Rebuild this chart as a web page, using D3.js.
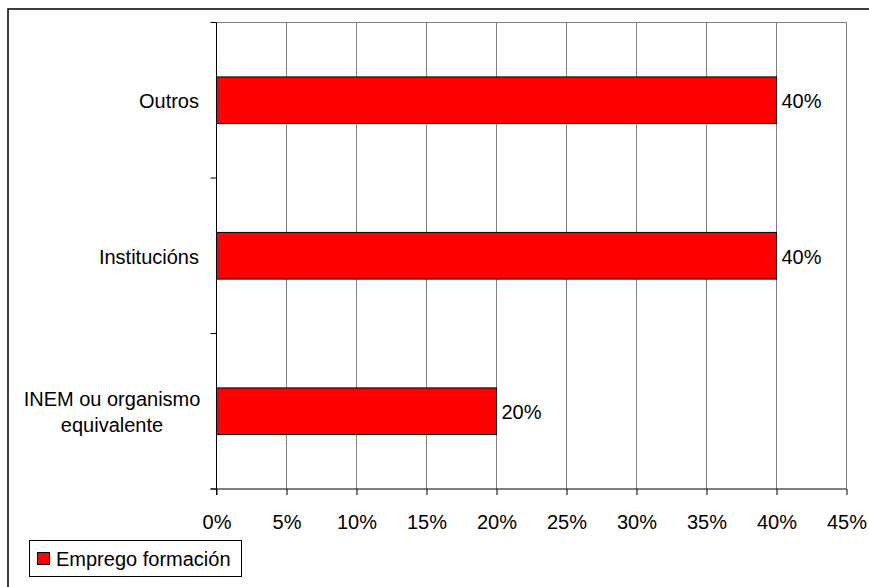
<!DOCTYPE html>
<html><head><meta charset="utf-8">
<script src="https://cdn.jsdelivr.net/npm/d3@7"></script>
<style>body{margin:0;background:#fff}svg{display:block;font-family:"Liberation Sans",Arial,sans-serif}</style>
</head><body>
<svg id="c" width="869" height="587"></svg>
<script>
const categories = ["Outros", "Institucións", "INEM ou organismo equivalente"];
const categoryLines = [["Outros"], ["Institucións"], ["INEM ou organismo", "equivalente"]];
const values = [0.40, 0.40, 0.20];
const valueLabels = ["40%", "40%", "20%"];
const xTicks = [0, 0.05, 0.10, 0.15, 0.20, 0.25, 0.30, 0.35, 0.40, 0.45];
const seriesName = "Emprego formación";

const svg = d3.select("#c");
const fs = 20;
// outer frame
svg.append("rect").attr("x", 8).attr("y", 9).attr("width", 900).attr("height", 700)
  .attr("fill", "#fff").attr("stroke", "#000").attr("stroke-width", 1.5);

const L = 216.5, R = 846.5, T = 22.5, B = 489;
const x = d3.scaleLinear().domain([0, 0.45]).range([L, R]);
const y = d3.scaleBand().domain(categories).range([T, B]).paddingInner(0.7).paddingOuter(0.35);

// gridlines
svg.append("g").selectAll("line").data(xTicks.slice(1)).join("line")
  .attr("x1", d => x(d)).attr("x2", d => x(d)).attr("y1", T).attr("y2", B)
  .attr("stroke", "#808080").attr("stroke-width", 1);
svg.append("line").attr("x1", L).attr("x2", R).attr("y1", T).attr("y2", T)
  .attr("stroke", "#808080").attr("stroke-width", 1);

// bars
svg.append("g").selectAll("rect").data(categories).join("rect")
  .attr("x", x(0)).attr("y", d => y(d))
  .attr("width", (d, i) => x(values[i]) - x(0)).attr("height", y.bandwidth())
  .attr("fill", "#ff0000").attr("stroke", "#000").attr("stroke-width", 1);

// x axis
const xAxis = d3.axisBottom(x).tickValues(xTicks).tickSize(6).tickPadding(20)
  .tickFormat(d => Math.round(d * 100) + "%");
const gx = svg.append("g").attr("transform", `translate(0,${B})`).call(xAxis);
gx.select(".domain").attr("d", `M${L - 6},0H${R}`).attr("stroke", "#000");
gx.selectAll(".tick line").attr("stroke", "#000");
gx.selectAll(".tick text").attr("font-size", fs).attr("fill", "#000")
  .attr("font-family", "Liberation Sans, Arial, sans-serif").attr("dy", "0.35em").attr("y", 33);

// y axis ticks at band boundaries
const step = (B - T) / categories.length;
const yTickPos = d3.range(categories.length + 1).map(i => T + i * step);
svg.append("line").attr("x1", L).attr("x2", L).attr("y1", T).attr("y2", B + 6).attr("stroke", "#000");
svg.append("g").selectAll("line").data(yTickPos).join("line")
  .attr("x1", L - 6).attr("x2", L).attr("y1", d => d).attr("y2", d => d).attr("stroke", "#000");

// category labels
categories.forEach((c, i) => {
  const lines = categoryLines[i];
  const cy = y(c) + y.bandwidth() / 2;
  const lh = 26;
  const multi = lines.length > 1;
  const t = svg.append("text").attr("font-size", fs).attr("fill", "#000")
    .attr("text-anchor", multi ? "middle" : "end");
  lines.forEach((ln, j) => {
    t.append("tspan").attr("x", multi ? 112 : 199)
      .attr("y", cy + 1 + (j - (lines.length - 1) / 2) * lh)
      .attr("dy", "0.35em").text(ln);
  });
});

// value labels
svg.append("g").selectAll("text").data(categories).join("text")
  .attr("x", (d, i) => x(values[i]) + 5).attr("y", d => y(d) + y.bandwidth() / 2 + 1)
  .attr("dy", "0.35em").attr("font-size", fs).attr("fill", "#000")
  .text((d, i) => valueLabels[i]);

// legend
const lg = svg.append("g");
lg.append("rect").attr("x", 29.5).attr("y", 540.5).attr("width", 212).attr("height", 36)
  .attr("fill", "#fff").attr("stroke", "#000").attr("stroke-width", 1);
lg.append("rect").attr("x", 37.5).attr("y", 552.5).attr("width", 12).attr("height", 12)
  .attr("fill", "#ff0000").attr("stroke", "#000").attr("stroke-width", 1);
lg.append("text").attr("x", 56).attr("y", 559).attr("dy", "0.35em").attr("font-size", fs)
  .attr("fill", "#000").text(seriesName);
</script>
</body></html>
